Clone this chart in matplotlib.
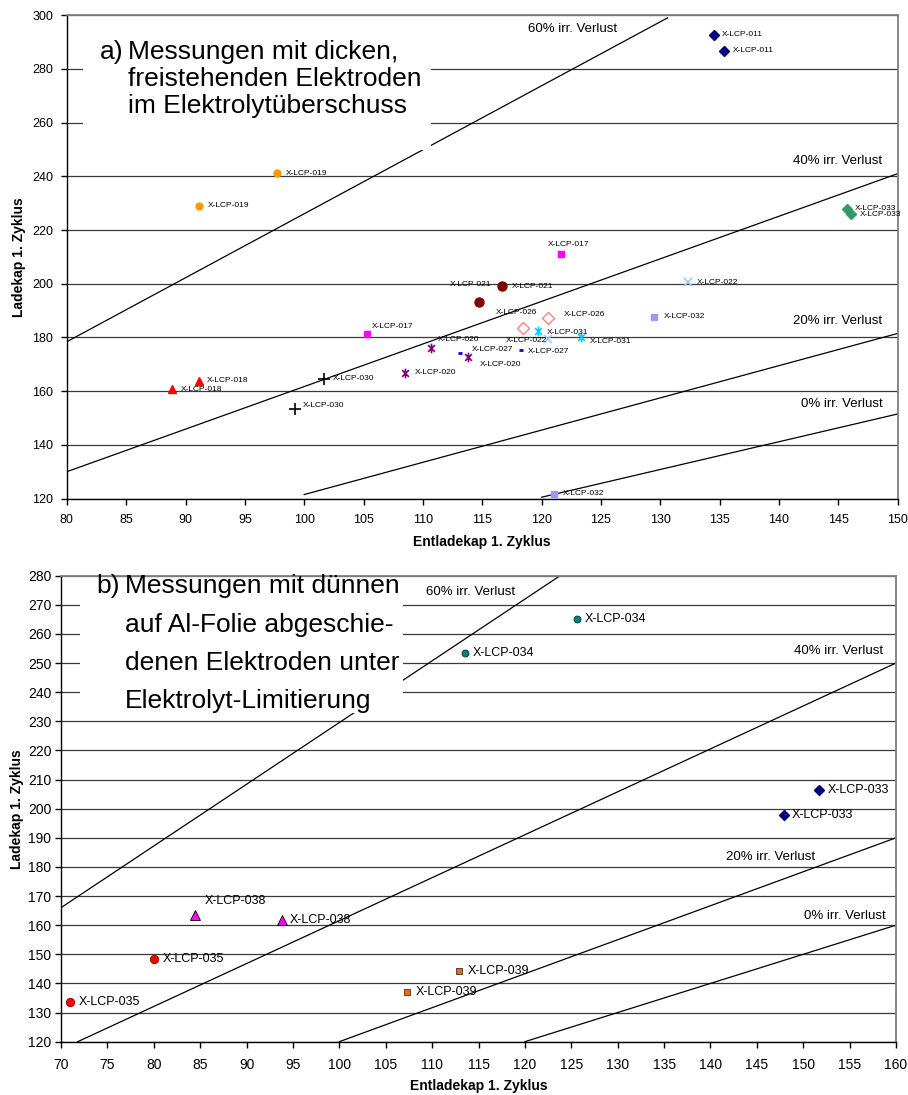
import matplotlib
matplotlib.use("Agg")
import matplotlib.pyplot as plt
from matplotlib import font_manager
from matplotlib.patches import Rectangle
from matplotlib.path import Path

plt.rcParams['font.family'] = ['Liberation Sans', 'DejaVu Sans']
fonts = {f.name for f in font_manager.fontManager.ttflist}
narrow = 'Liberation Sans Narrow' if 'Liberation Sans Narrow' in fonts else 'Liberation Sans'

# --- a) dicke, freistehende Elektroden ---
a_label = ['X-LCP-011', 'X-LCP-011', 'X-LCP-033', 'X-LCP-033', 'X-LCP-019', 'X-LCP-019',
           'X-LCP-018', 'X-LCP-018', 'X-LCP-017', 'X-LCP-017', 'X-LCP-021', 'X-LCP-021',
           'X-LCP-030', 'X-LCP-030', 'X-LCP-020', 'X-LCP-020', 'X-LCP-020', 'X-LCP-027',
           'X-LCP-027', 'X-LCP-026', 'X-LCP-026', 'X-LCP-031', 'X-LCP-031', 'X-LCP-022',
           'X-LCP-022', 'X-LCP-032', 'X-LCP-032']
a_ent = [134.5, 135.4, 145.7, 146.1, 97.7, 91.1, 91.1, 88.9, 121.6, 105.3, 116.7, 114.7,
         101.7, 99.2, 110.7, 113.8, 108.5, 113.1, 118.3, 118.4, 120.5, 119.7, 123.3, 132.3,
         120.5, 129.5, 121.0]
a_lad = [292.8, 286.7, 227.9, 225.9, 241.2, 229.0, 163.8, 160.7, 211.1, 181.4, 199.1, 193.3,
         164.7, 153.5, 176.0, 172.6, 166.9, 174.3, 175.3, 183.7, 187.4, 182.5, 180.2, 200.6,
         179.3, 187.7, 121.8]

# Verlustlinien (Endpunkte)
a_loss = ['60% irr. Verlust', '40% irr. Verlust', '20% irr. Verlust', '0% irr. Verlust']
a_loss_x = [(80, 130.6), (80, 150), (100, 150), (120, 150)]
a_loss_y = [(178.4, 299), (130, 241), (121.5, 181.5), (120.5, 151.5)]

# --- b) duenne Elektroden auf Al-Folie ---
b_label = ['X-LCP-034', 'X-LCP-034', 'X-LCP-033', 'X-LCP-033', 'X-LCP-038', 'X-LCP-038',
           'X-LCP-035', 'X-LCP-035', 'X-LCP-039', 'X-LCP-039']
b_ent = [125.6, 113.5, 151.7, 147.9, 84.4, 93.8, 80.0, 71.0, 112.9, 107.3]
b_lad = [265.0, 253.4, 206.4, 197.7, 163.4, 161.8, 148.3, 133.7, 144.4, 137.2]

b_loss = ['60% irr. Verlust', '40% irr. Verlust', '20% irr. Verlust', '0% irr. Verlust']
b_loss_x = [(70, 123.8), (71.8, 160), (100, 160), (120, 160)]
b_loss_y = [(166, 280), (120, 250), (120, 190), (120, 160)]

# Excel-Stern: x mit senkrechtem Strich
star = Path([(0, -1), (0, 1), (-0.7, -0.7), (0.7, 0.7), (-0.7, 0.7), (0.7, -0.7)],
            [Path.MOVETO, Path.LINETO] * 3)

a_style = {
    'X-LCP-011': dict(marker='D', ms=5, mfc='#000080', mec='#000080'),
    'X-LCP-033': dict(marker='D', ms=5, mfc='#339966', mec='#339966'),
    'X-LCP-019': dict(marker='o', ms=5, mfc='#FF9900', mec='#FF9900'),
    'X-LCP-018': dict(marker='^', ms=6, mfc='#FF0000', mec='#FF0000'),
    'X-LCP-017': dict(marker='s', ms=4.5, mfc='#FF00FF', mec='#FF00FF'),
    'X-LCP-021': dict(marker='o', ms=6.5, mfc='#800000', mec='#800000'),
    'X-LCP-030': dict(marker='+', ms=8, mec='black', mew=1.2),
    'X-LCP-020': dict(marker=star, ms=7, mec='#800080', mew=1.2),
    'X-LCP-027': dict(marker='_', ms=3.5, mec='#0000FF', mew=2),
    'X-LCP-026': dict(marker='D', ms=6, mfc='white', mec='#FF8080', mew=1),
    'X-LCP-031': dict(marker=star, ms=7, mec='#00CCFF', mew=1.2),
    'X-LCP-022': dict(marker='x', ms=5.5, mec='#99CCFF', mew=1.2),
    'X-LCP-032': dict(marker='s', ms=5, mfc='#9999FF', mec='#9999FF'),
}
b_style = {
    'X-LCP-034': dict(marker='o', ms=5, mfc='#008080', mec='#003333', mew=0.6),
    'X-LCP-033': dict(marker='D', ms=5, mfc='#000080', mec='#000080'),
    'X-LCP-038': dict(marker='^', ms=7.5, mfc='#FF00FF', mec='black', mew=0.6),
    'X-LCP-035': dict(marker='o', ms=6, mfc='#FF0000', mec='#800000', mew=0.6),
    'X-LCP-039': dict(marker='s', ms=5, mfc='#FF6600', mec='#333333', mew=0.6),
}

# Beschriftungs-Versatz in pt (dx, dy, ha)
a_off = [(6, 0, 'left'), (6, 0, 'left'), (6, 0, 'left'), (6, -0.5, 'left'), (6.7, 0, 'left'),
         (6.7, 0, 'left'), (6, 0, 'left'), (6, 0, 'left'), (5.8, 6.5, 'center'), (3.6, 5.5, 'left'),
         (7, 0, 'left'), (9, 12.5, 'right'), (6, 0, 'left'), (6, 2.5, 'left'), (5, 6.5, 'left'),
         (8.6, -5, 'left'), (7, 0, 'left'), (8.6, 2, 'left'), (4.8, -1, 'left'), (-4.3, 10.8, 'center'),
         (11.5, 2, 'left'), (6.5, -1, 'left'), (6.2, -3, 'left'), (6.5, 0, 'left'), (0, -0.7, 'right'),
         (6.7, 0, 'left'), (6.7, 0, 'left')]
b_off = [(6, 0, 'left'), (6.2, 0, 'left'), (6, 0, 'left'), (5.5, 0, 'left'), (7, 10, 'left'),
         (6, 0, 'left'), (6.2, 0, 'left'), (6.2, 0, 'left'), (6, 0, 'left'), (6, 0, 'left')]


def draw(ax, labels, ent, lad, style, off, lfs, lfam):
    for name in dict.fromkeys(labels):
        xs = [x for x, l in zip(ent, labels) if l == name]
        ys = [y for y, l in zip(lad, labels) if l == name]
        ax.plot(xs, ys, ls='none', zorder=4, clip_on=False, **style[name])
    for l, x, y, (dx, dy, ha) in zip(labels, ent, lad, off):
        ax.annotate(l, (x, y), xytext=(dx, dy), textcoords='offset points', ha=ha,
                    va='center', fontsize=lfs, family=lfam, color='black', zorder=5)


def frame(ax, tickfam, tickfs):
    ax.yaxis.grid(True, color='#3a3a3a', lw=0.9)
    ax.set_axisbelow(True)
    for s in ('top', 'right'):
        ax.spines[s].set_color('#808080')
        ax.spines[s].set_linewidth(1.3)
    for s in ('left', 'bottom'):
        ax.spines[s].set_color('black')
        ax.spines[s].set_linewidth(1.0)
    ax.tick_params(length=4, width=1, labelsize=tickfs)
    for t in ax.get_xticklabels() + ax.get_yticklabels():
        t.set_family(tickfam)


fig = plt.figure(figsize=(9.08, 10.95), dpi=100)

# ---------- a ----------
ax1 = fig.add_axes([0.0736, 0.5447, 0.9151, 0.4414])
ax1.set_xlim(80, 150)
ax1.set_ylim(120, 300)
ax1.set_xticks(range(80, 151, 5))
ax1.set_yticks(range(120, 301, 20))
frame(ax1, 'Liberation Sans', 9)
ax1.tick_params(axis='x', pad=7)
ax1.tick_params(axis='y', pad=6)

for lx, ly in zip(a_loss_x, a_loss_y):
    ax1.plot(lx, ly, color='black', lw=0.9, zorder=2)
ax1.text(126.4, 294.8, a_loss[0], ha='right', va='center', fontsize=9.5)
ax1.text(148.7, 245.8, a_loss[1], ha='right', va='center', fontsize=9.5)
ax1.text(148.7, 186.0, a_loss[2], ha='right', va='center', fontsize=9.5)
ax1.text(148.7, 155.3, a_loss[3], ha='right', va='center', fontsize=9.5)

draw(ax1, a_label, a_ent, a_lad, a_style, a_off, 6, 'Liberation Sans')

ax1.add_patch(Rectangle((0.0195, 0.7203), 0.4188, 0.27, transform=ax1.transAxes,
                        facecolor='white', edgecolor='none', zorder=3))
ax1.text(0.040, 0.909, 'a)', transform=ax1.transAxes, fontsize=19, va='baseline', zorder=6)
for txt, yb in zip(['Messungen mit dicken,', 'freistehenden Elektroden', 'im Elektrolytüberschuss'],
                   [0.909, 0.8538, 0.7973]):
    ax1.text(0.0737, yb, txt, transform=ax1.transAxes, fontsize=19, va='baseline', zorder=6)

ax1.set_xlabel('Entladekap 1. Zyklus', fontsize=10, fontweight='bold')
ax1.set_ylabel('Ladekap 1. Zyklus', fontsize=10, fontweight='bold')
ax1.xaxis.set_label_coords(0.5, -0.0898)
ax1.xaxis.label.set_va('center')
ax1.yaxis.set_label_coords(-0.0581, 0.5)
ax1.yaxis.label.set_va('center')

# ---------- b ----------
ax2 = fig.add_axes([0.0672, 0.0487, 0.9196, 0.4256])
ax2.set_xlim(70, 160)
ax2.set_ylim(120, 280)
ax2.set_xticks(range(70, 161, 5))
ax2.set_yticks(range(120, 281, 10))
frame(ax2, narrow, 10)
ax2.tick_params(axis='x', pad=8)
ax2.tick_params(axis='y', pad=3)

for lx, ly in zip(b_loss_x, b_loss_y):
    ax2.plot(lx, ly, color='black', lw=0.9, zorder=2)
ax2.text(109.3, 274.5, b_loss[0], ha='left', va='center', fontsize=9.5)
ax2.text(158.6, 254.1, b_loss[1], ha='right', va='center', fontsize=9.5)
ax2.text(151.3, 183.5, b_loss[2], ha='right', va='center', fontsize=9.5)
ax2.text(158.9, 163.2, b_loss[3], ha='right', va='center', fontsize=9.5)

draw(ax2, b_label, b_ent, b_lad, b_style, b_off, 9, narrow)

ax2.add_patch(Rectangle((0.0228, 0.7054), 0.3868, 0.285, transform=ax2.transAxes,
                        facecolor='white', edgecolor='none', zorder=3))
ax2.text(0.0428, 0.9622, 'b)', transform=ax2.transAxes, fontsize=19, va='baseline', zorder=6)
for txt, yb in zip(['Messungen mit dünnen', 'auf Al-Folie abgeschie-', 'denen Elektroden unter',
                    'Elektrolyt-Limitierung'], [0.9622, 0.8798, 0.7976, 0.7161]):
    ax2.text(0.0766, yb, txt, transform=ax2.transAxes, fontsize=19, va='baseline', zorder=6)

ax2.set_xlabel('Entladekap 1. Zyklus', fontsize=10, fontweight='bold')
ax2.set_ylabel('Ladekap 1. Zyklus', fontsize=10, fontweight='bold')
ax2.xaxis.set_label_coords(0.5, -0.0944)
ax2.xaxis.label.set_va('center')
ax2.yaxis.set_label_coords(-0.0527, 0.5)
ax2.yaxis.label.set_va('center')

fig.savefig('out.png', dpi=100)
